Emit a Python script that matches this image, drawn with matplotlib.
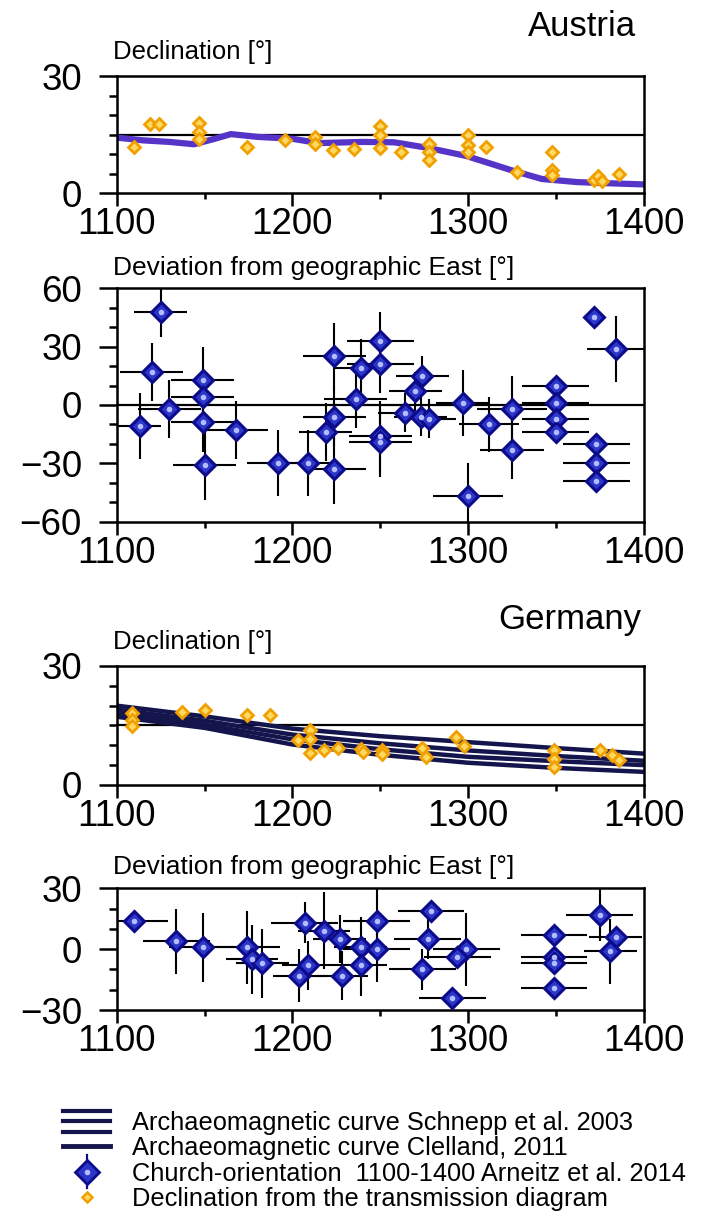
import numpy as np
import matplotlib
matplotlib.use("Agg")
import matplotlib.pyplot as plt
from matplotlib.lines import Line2D
from matplotlib.legend_handler import HandlerBase

plt.rcParams['font.family'] = ['Liberation Sans', 'DejaVu Sans']

# --- Austria: declination curve and transmission-diagram points ---
aus_curve_year = [1100, 1115, 1130, 1144, 1155, 1165, 1180, 1200, 1215, 1240,
                  1258, 1278, 1299, 1325, 1342, 1362, 1380, 1400]
aus_curve_dec = [14.2, 13.5, 13.1, 12.5, 13.8, 15.1, 14.4, 13.9, 12.8, 13.1,
                 13.0, 11.5, 9.5, 5.8, 3.6, 2.8, 2.5, 2.2]

aus_dec_year = [1110, 1119, 1124, 1147, 1147, 1147, 1174, 1196, 1213, 1213,
                1223, 1235, 1250, 1250, 1250, 1262, 1278, 1278, 1278, 1300,
                1300, 1300, 1310, 1328, 1348, 1348, 1348, 1372, 1374, 1376, 1386]
aus_dec_val = [11.8, 17.8, 17.8, 18.0, 15.6, 13.8, 11.8, 13.5, 14.3, 12.6,
               10.9, 11.3, 17.3, 15.0, 11.5, 10.5, 12.6, 10.5, 8.4, 14.8,
               12.2, 10.5, 11.8, 5.3, 10.6, 5.8, 4.5, 3.4, 4.4, 3.0, 4.9]

# --- Austria: church orientation (deviation from geographic East) ---
aus_dev_year = [1125, 1120, 1130, 1113, 1149, 1149, 1149, 1150, 1168, 1192,
                1209, 1224, 1224, 1224, 1219, 1236, 1239, 1250, 1250, 1250,
                1250, 1274, 1270, 1264, 1273, 1278, 1297, 1300, 1312, 1325,
                1325, 1350, 1350, 1350, 1350, 1372, 1384, 1373, 1373, 1373]
aus_dev_val = [48, 17, -2, -11, 13, 4, -9, -31, -13, -30,
               -30, -33, 25, -6, -14, 3, 19, 33, 21, -16,
               -19, 15, 7, -4, -6, -7, 1, -47, -10, -2,
               -23, 10, 1, -7, -14, 45, 29, -20, -30, -39]
aus_dev_xerr = [15, 18, 18, 12, 18, 18, 18, 18, 18, 18,
                15, 18, 18, 18, 15, 18, 15, 19, 19, 18,
                18, 15, 15, 15, 15, 15, 15, 20, 17, 20,
                18, 19, 19, 19, 19, 0, 16, 19, 19, 19]
aus_dev_yerr = [13, 15, 15, 17, 17, 15, 15, 18, 15, 17,
                17, 18, 17, 15, 15, 15, 15, 15, 15, 18,
                18, 10, 10, 10, 10, 10, 17, 17, 14, 17,
                15, 0, 0, 0, 0, 0, 17, 0, 0, 0]

# --- Germany: archaeomagnetic curves and transmission-diagram points ---
ger_curve_year = [1100, 1150, 1200, 1250, 1300, 1350, 1400]
schnepp_upper = [20.0, 17.3, 14.2, 12.3, 10.8, 9.3, 7.9]
schnepp_mid = [19.0, 16.2, 12.7, 10.5, 8.7, 7.3, 6.1]
schnepp_lower = [17.2, 14.4, 10.2, 7.6, 5.6, 4.3, 3.3]
clelland = [18.2, 15.2, 11.5, 9.0, 7.1, 6.0, 5.0]

ger_dec_year = [1109, 1109, 1109, 1137, 1150, 1174, 1187, 1203, 1210, 1210,
                1210, 1218, 1226, 1239, 1240, 1251, 1251, 1274, 1276, 1293,
                1298, 1349, 1349, 1349, 1375, 1382, 1386]
ger_dec_val = [18.1, 16.4, 14.9, 18.5, 18.9, 17.6, 17.6, 11.3, 13.9, 11.5,
               8.0, 8.8, 9.2, 9.0, 8.3, 8.8, 7.9, 9.2, 7.1, 12.2,
               9.7, 8.8, 6.5, 4.6, 8.8, 7.6, 6.3]

# --- Germany: church orientation ---
ger_dev_year = [1110, 1134, 1149, 1174, 1177, 1183, 1204, 1207, 1218, 1209,
                1228, 1227, 1239, 1239, 1248, 1248, 1279, 1277, 1274, 1299,
                1294, 1291, 1349, 1349, 1349, 1349, 1375, 1384, 1381]
ger_dev_val = [14, 4, 1, 1, -5, -7, -13, 13, 9, -8,
               -13, 5, 1, -8, 14, 0, 19, 5, -10, 0,
               -4, -24, 7, -4, -7, -19, 17, 6, -1]
ger_dev_xerr = [19, 19, 19, 19, 15, 15, 15, 19, 15, 15,
                15, 15, 15, 15, 19, 19, 19, 19, 19, 19,
                19, 19, 19, 19, 19, 19, 19, 15, 15]
ger_dev_yerr = [0, 16, 17, 18, 17, 17, 13, 10, 19, 12,
                12, 12, 15, 15, 16, 16, 0, 10, 10, 18,
                0, 0, 0, 0, 0, 0, 13, 0, 16]

legend_labels = ["Archaeomagnetic curve Schnepp et al. 2003",
                 "Archaeomagnetic curve Clelland, 2011",
                 "Church-orientation  1100-1400 Arneitz et al. 2014",
                 "Declination from the transmission diagram"]

NAVY = '#15154e'
PURPLE = '#5634c8'
ORANGE = '#f0a000'
ORANGE_FILL = '#ffd860'
BLUE_EDGE = '#0c0c8a'
BLUE_FILL = '#2c36c8'

fig = plt.figure(figsize=(7.05, 12.2), dpi=100)
L, W = 0.1655, 0.7475
ax1 = fig.add_axes([L, 0.8418, W, 0.0959])
ax2 = fig.add_axes([L, 0.5724, W, 0.1913])
ax3 = fig.add_axes([L, 0.3566, W, 0.0975])
ax4 = fig.add_axes([L, 0.1721, W, 0.0998])


def style(ax, ylim, major, minor):
    ax.set_xlim(1100, 1400)
    ax.set_ylim(*ylim)
    ax.set_xticks([1100, 1200, 1300, 1400])
    ax.set_xticks([1150, 1250, 1350], minor=True)
    ax.set_yticks(major)
    ax.set_yticks(minor, minor=True)
    ax.tick_params(axis='x', which='major', direction='out', length=9, width=1.8,
                   labelsize=26.5, pad=1)
    ax.tick_params(axis='x', which='minor', direction='out', length=4, width=1.8)
    ax.tick_params(axis='y', which='major', direction='out', length=13, width=1.8,
                   labelsize=26.5, pad=12)
    ax.tick_params(axis='y', which='minor', direction='out', length=6, width=1.8)
    for s in ax.spines.values():
        s.set_linewidth(1.8)


def orange_points(ax, x, y):
    ax.plot(x, y, linestyle='none', marker='D', ms=6.3, mfc=ORANGE_FILL, mec=ORANGE,
            mew=2.0, zorder=4)


def church_points(ax, x, y, xe, ye):
    ax.errorbar(x, y, xerr=xe, yerr=ye, fmt='none', ecolor='black',
                elinewidth=1.5, capsize=0, zorder=2)
    ax.plot(x, y, linestyle='none', marker='D', ms=10, mfc=BLUE_FILL, mec=BLUE_EDGE,
            mew=2.2, zorder=3)
    ax.plot(x, y, linestyle='none', marker='o', ms=3, color='#b4bcff', zorder=4)


# Austria declination
style(ax1, (0, 30), [0, 30], [5, 10, 15, 20, 25])
ax1.axhline(15, color='black', lw=1.6, zorder=1)
ax1.plot(aus_curve_year, aus_curve_dec, color=PURPLE, lw=4.5, zorder=2)
orange_points(ax1, aus_dec_year, aus_dec_val)

# Austria deviation
style(ax2, (-60, 60), [-60, -30, 0, 30, 60], [-50, -40, -20, -10, 10, 20, 40, 50])
ax2.axhline(0, color='black', lw=1.6, zorder=1)
church_points(ax2, aus_dev_year, aus_dev_val, aus_dev_xerr, aus_dev_yerr)

# Germany declination
style(ax3, (0, 30), [0, 30], [5, 10, 15, 20, 25])
ax3.axhline(15, color='black', lw=1.6, zorder=1)
for curve in (schnepp_upper, schnepp_mid, schnepp_lower):
    ax3.plot(ger_curve_year, curve, color=NAVY, lw=3.2, zorder=2)
ax3.plot(ger_curve_year, clelland, color=NAVY, lw=3.2, zorder=2)
orange_points(ax3, ger_dec_year, ger_dec_val)

# Germany deviation
style(ax4, (-30, 30), [-30, 0, 30], [-20, -10, 10, 20])
church_points(ax4, ger_dev_year, ger_dev_val, ger_dev_xerr, ger_dev_yerr)

# titles and axis captions
fig.text(636 / 705, 1 - 27 / 1220, "Austria", ha='right', va='center', fontsize=25)
fig.text(641 / 705, 1 - 619 / 1220, "Germany", ha='right', va='center', fontsize=25)
fig.text(113 / 705, 1 - 52 / 1220, "Declination [°]", ha='left', va='center', fontsize=18.5)
fig.text(113 / 705, 1 - 642 / 1220, "Declination [°]", ha='left', va='center', fontsize=18.5)
fig.text(113 / 705, 1 - 268 / 1220, "Deviation from geographic East [°]",
         ha='left', va='center', fontsize=19)
fig.text(113 / 705, 1 - 867 / 1220, "Deviation from geographic East [°]",
         ha='left', va='center', fontsize=19)


# legend with custom glyphs
class TripleLine(HandlerBase):
    def create_artists(self, legend, orig_handle, xdescent, ydescent, width, height,
                       fontsize, trans):
        y0 = (height - ydescent) / 2
        arts = []
        for dy in (7.5, 0, -7.5):
            ln = Line2D([-xdescent, width - xdescent], [y0 + dy] * 2, color=NAVY, lw=3)
            ln.set_transform(trans)
            arts.append(ln)
        return arts


class ChurchGlyph(HandlerBase):
    def create_artists(self, legend, orig_handle, xdescent, ydescent, width, height,
                       fontsize, trans):
        y0 = (height - ydescent) / 2
        xc = (width - xdescent) / 2
        bar = Line2D([xc, xc], [y0 - 12, y0 + 12], color=BLUE_EDGE, lw=1.6)
        mk = Line2D([xc], [y0], linestyle='none', marker='D', ms=12, mfc=BLUE_FILL,
                    mec=BLUE_EDGE, mew=2)
        dot = Line2D([xc], [y0], linestyle='none', marker='o', ms=3, color='#b4bcff')
        for a in (bar, mk, dot):
            a.set_transform(trans)
        return [bar, mk, dot]


h_schnepp = Line2D([], [], color=NAVY)
h_clelland = Line2D([], [], color=NAVY, lw=3.5)
h_church = Line2D([], [], color=BLUE_EDGE)
h_orange = Line2D([], [], linestyle='none', marker='D', ms=5, mfc=ORANGE_FILL,
                  mec=ORANGE, mew=1.8)
fig.legend([h_schnepp, h_clelland, h_church, h_orange], legend_labels,
           handler_map={h_schnepp: TripleLine(), h_church: ChurchGlyph()},
           loc='center left', bbox_to_anchor=(63 / 705, 1 - 1161 / 1220),
           frameon=False, fontsize=18.3, handlelength=1.85, handletextpad=0.85,
           labelspacing=0.05, borderpad=0, borderaxespad=0)

fig.savefig('out.png', dpi=100)
